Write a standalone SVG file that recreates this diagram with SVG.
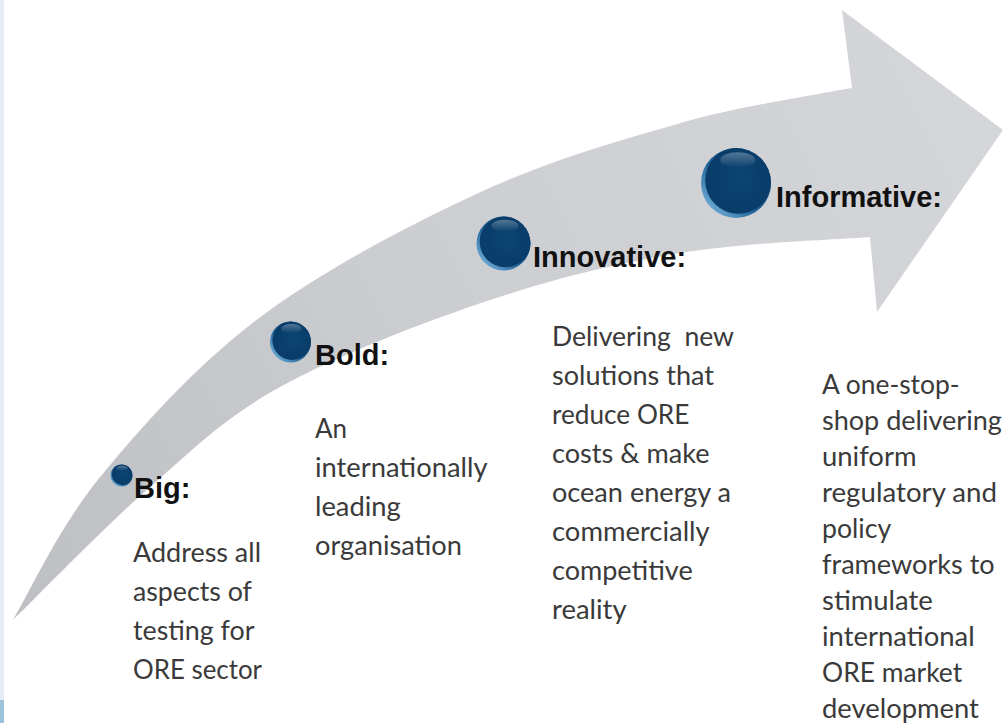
<svg xmlns="http://www.w3.org/2000/svg" width="1006" height="723" viewBox="0 0 1006 723">
<defs>
<style>
.lbl{font-family:"Liberation Sans",Arial,sans-serif;font-weight:bold;font-size:29px;fill:#111}
.body{font-family:Lato,"Open Sans",sans-serif;font-size:26px;fill:#3a3a3a;white-space:pre}
</style>
<linearGradient id="arrowFill" gradientUnits="userSpaceOnUse" x1="0" y1="600" x2="1006" y2="100">
<stop offset="0" stop-color="#bebfc3"/>
<stop offset="0.45" stop-color="#cccdd1"/>
<stop offset="1" stop-color="#d5d6da"/>
</linearGradient>
<linearGradient id="rim" x1="1" y1="0" x2="0" y2="1">
<stop offset="0" stop-color="#0a3d6b"/>
<stop offset="0.55" stop-color="#1c5f95"/>
<stop offset="1" stop-color="#8cc6ec"/>
</linearGradient>
<radialGradient id="body" cx="0.5" cy="0.5" r="0.5" fx="0.55" fy="0.45">
<stop offset="0" stop-color="#0c4573"/>
<stop offset="1" stop-color="#093c69"/>
</radialGradient>
<linearGradient id="hl" x1="0" y1="0" x2="0" y2="1">
<stop offset="0" stop-color="#ffffff" stop-opacity="0.3"/>
<stop offset="1" stop-color="#ffffff" stop-opacity="0"/>
</linearGradient>
<clipPath id="ballClip"><circle cx="0" cy="0" r="1"/></clipPath>
<g id="sphere">
<circle cx="0" cy="0" r="1" fill="url(#rim)"/>
<g clip-path="url(#ballClip)">
<circle cx="0.07" cy="-0.07" r="0.95" fill="url(#body)"/>
</g>
<ellipse cx="0.05" cy="-0.66" rx="0.5" ry="0.22" fill="url(#hl)"/>
</g>
</defs>
<rect width="1006" height="723" fill="#ffffff"/>
<rect x="0" y="0" width="4" height="700" fill="#e4edf6"/>
<rect x="0" y="700" width="4" height="23" fill="#9dc3da"/>
<g id="connectors">
<path id="arrow" d="M13,620 C27.5,596.2 58.8,527.5 100,477 C141.2,426.5 196.7,364.5 260,317 C323.3,269.5 410,224.3 480,192 C550,159.7 620,140 680,123 C740,106 813.3,95.5 840,90 L852,88 L842,10 L1003,130 L877,312 L870,237 C838.3,239.7 743.3,242.5 680,253 C616.7,263.5 556.7,277.7 490,300 C423.3,322.3 336.7,355.8 280,387 C223.3,418.2 194.5,448.2 150,487 C105.5,525.8 35.8,597.8 13,620 Z" fill="url(#arrowFill)"/>
<path d="M100,477 C141.2,426.5 196.7,364.5 260,317 C323.3,269.5 410,224.3 480,192 C550,159.7 620,140 680,123" fill="none" stroke="#ffffff" stroke-opacity="0.6" stroke-width="1"/>
</g>
<g id="node-big">
<use href="#sphere" transform="translate(121.5,475.5) scale(11)"/>
<text class="lbl" x="134" y="498">Big:</text>
<text class="body" x="133" y="562" textLength="128" lengthAdjust="spacingAndGlyphs">Address all</text>
<text class="body" x="133" y="601" textLength="119" lengthAdjust="spacingAndGlyphs">aspects of</text>
<text class="body" x="133" y="640" textLength="121.5" lengthAdjust="spacingAndGlyphs">testing for</text>
<text class="body" x="133" y="679" textLength="129" lengthAdjust="spacingAndGlyphs">ORE sector</text>
</g>
<g id="node-bold">
<use href="#sphere" transform="translate(290.5,342) scale(20.5)"/>
<text class="lbl" x="315" y="365">Bold:</text>
<text class="body" x="315" y="438" textLength="32" lengthAdjust="spacingAndGlyphs">An</text>
<text class="body" x="315" y="477" textLength="172.5" lengthAdjust="spacingAndGlyphs">internationally</text>
<text class="body" x="315" y="516" textLength="85.7" lengthAdjust="spacingAndGlyphs">leading</text>
<text class="body" x="315" y="555" textLength="147" lengthAdjust="spacingAndGlyphs">organisation</text>
</g>
<g id="node-innovative">
<use href="#sphere" transform="translate(503.5,243.5) scale(27)"/>
<text class="lbl" x="533" y="267">Innovative:</text>
<text class="body" x="552" y="346" textLength="182" lengthAdjust="spacingAndGlyphs">Delivering  new</text>
<text class="body" x="552" y="385" textLength="162" lengthAdjust="spacingAndGlyphs">solutions that</text>
<text class="body" x="552" y="424" textLength="137.4" lengthAdjust="spacingAndGlyphs">reduce ORE</text>
<text class="body" x="552" y="463" textLength="157.5" lengthAdjust="spacingAndGlyphs">costs &amp; make</text>
<text class="body" x="552" y="502" textLength="179" lengthAdjust="spacingAndGlyphs">ocean energy a</text>
<text class="body" x="552" y="541" textLength="157.7" lengthAdjust="spacingAndGlyphs">commercially</text>
<text class="body" x="552" y="580" textLength="140.7" lengthAdjust="spacingAndGlyphs">competitive</text>
<text class="body" x="552" y="619" textLength="74.6" lengthAdjust="spacingAndGlyphs">reality</text>
</g>
<g id="node-informative">
<use href="#sphere" transform="translate(736,183) scale(35)"/>
<text class="lbl" x="776" y="207">Informative:</text>
<text class="body" x="822" y="394" textLength="137.6" lengthAdjust="spacingAndGlyphs">A one-stop-</text>
<text class="body" x="822" y="430" textLength="179.8" lengthAdjust="spacingAndGlyphs">shop delivering</text>
<text class="body" x="822" y="466" textLength="94.5" lengthAdjust="spacingAndGlyphs">uniform</text>
<text class="body" x="822" y="502" textLength="175" lengthAdjust="spacingAndGlyphs">regulatory and</text>
<text class="body" x="822" y="538" textLength="69.2" lengthAdjust="spacingAndGlyphs">policy</text>
<text class="body" x="822" y="574" textLength="172.7" lengthAdjust="spacingAndGlyphs">frameworks to</text>
<text class="body" x="822" y="610" textLength="110.8" lengthAdjust="spacingAndGlyphs">stimulate</text>
<text class="body" x="822" y="646" textLength="152.7" lengthAdjust="spacingAndGlyphs">international</text>
<text class="body" x="822" y="682" textLength="140.2" lengthAdjust="spacingAndGlyphs">ORE market</text>
<text class="body" x="822" y="718" textLength="156.9" lengthAdjust="spacingAndGlyphs">development</text>
</g>
</svg>
